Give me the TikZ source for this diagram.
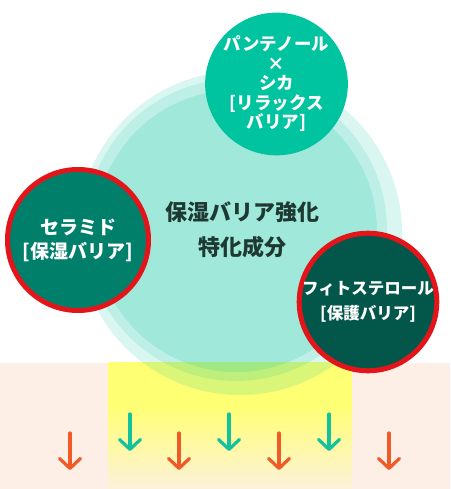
\documentclass[tikz,border=0pt]{standalone}
\usepackage{fontspec}
\setmainfont{Noto Sans CJK JP}
\usetikzlibrary{arrows.meta}
\definecolor{peach}{HTML}{FDEEE6}
\definecolor{yel}{HTML}{FFFF73}
\definecolor{yelmid}{HTML}{FFF8A8}
\definecolor{cream}{HTML}{FDF1DA}
\definecolor{tealbase}{HTML}{00C4A0}
\definecolor{pancol}{HTML}{00C3A0}
\definecolor{cercol}{HTML}{00806B}
\definecolor{phycol}{HTML}{03574A}
\definecolor{ringred}{HTML}{E3151B}
\definecolor{darktext}{HTML}{1E3932}
\definecolor{arrorange}{HTML}{F05A28}
\definecolor{arrteal}{HTML}{12C29C}
\tikzset{
  halo/.style={fill=tealbase},
  ingredient/.style={circle, inner sep=0pt, text=white, align=center},
  ringed/.style={ingredient, draw=ringred, line width=5pt},
  downarrow/.style={line width=3.2pt, line cap=round,
    -{Straight Barb[length=10pt,width=21pt,round]}},
  orangearrow/.style={downarrow, draw=arrorange},
  tealarrow/.style={downarrow, draw=arrteal}
}
\begin{document}
\begin{tikzpicture}[x=1pt,y=-1pt]
\useasboundingbox (0,0) rectangle (450,489);
\fill[white] (0,0) rectangle (450,489);
% skin band
\fill[peach] (0,363) rectangle (450,489);
\fill[yel] (108,362) rectangle (352,406);
\shade[top color=yel, middle color=yelmid, bottom color=cream] (108,405) rectangle (352,489);
% translucent halo circles
\fill[halo, opacity=0.15] (240,233) circle[radius=162pt];
\fill[halo, opacity=0.12] (236,230) circle[radius=151pt];
\fill[halo, opacity=0.16] (236,231) circle[radius=141pt];
% centre label
\node[text=darktext, align=center, font=\fontsize{22}{35}\selectfont\bfseries] (core) at (242,230) {保湿バリア強化\\特化成分};
% ingredient circles
\node[ingredient, fill=pancol, minimum size=141pt, font=\fontsize{17.5}{19.5}\selectfont\bfseries] (pan) at (276.5,84) {パンテノール\\×\\シカ\\{[}リラックス\\バリア{]}};
\node[ringed, fill=cercol, minimum size=141pt, font=\fontsize{19}{24}\selectfont\bfseries] (cer) at (78,240) {セラミド\\{[}保湿バリア{]}};
\node[ringed, fill=phycol, minimum size=134pt, font=\fontsize{16.5}{24.5}\selectfont\bfseries] (phy) at (368,302) {フィトステロール\\{[}保護バリア{]}};
% arrows
\coordinate (o1s) at (70,433);  \coordinate (o1e) at (70,470);
\coordinate (o2s) at (179,433); \coordinate (o2e) at (179,470);
\coordinate (o3s) at (279,433); \coordinate (o3e) at (279,470);
\coordinate (o4s) at (389,433); \coordinate (o4e) at (389,470);
\coordinate (t1s) at (130,414); \coordinate (t1e) at (130,451);
\coordinate (t2s) at (229,414); \coordinate (t2e) at (229,451);
\coordinate (t3s) at (329,414); \coordinate (t3e) at (329,451);
\draw[orangearrow] (o1s) -- (o1e);
\draw[orangearrow] (o2s) -- (o2e);
\draw[orangearrow] (o3s) -- (o3e);
\draw[orangearrow] (o4s) -- (o4e);
\draw[tealarrow] (t1s) -- (t1e);
\draw[tealarrow] (t2s) -- (t2e);
\draw[tealarrow] (t3s) -- (t3e);
\end{tikzpicture}
\end{document}
